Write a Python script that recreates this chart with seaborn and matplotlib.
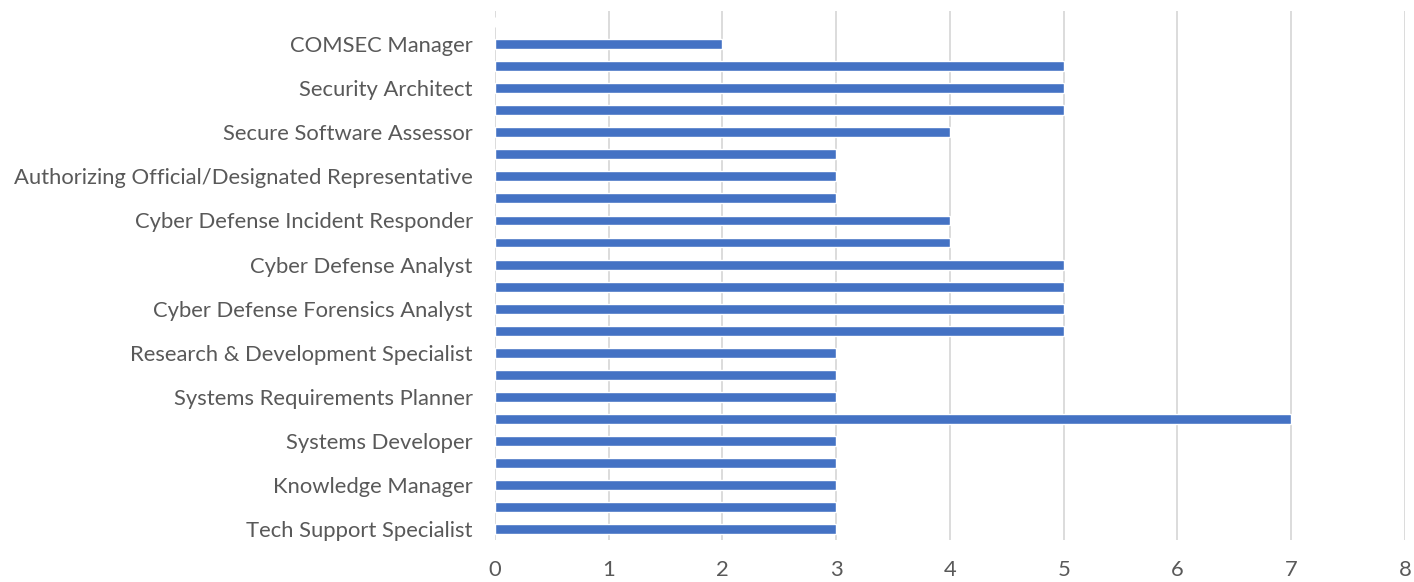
import matplotlib
matplotlib.use("Agg")
import matplotlib.pyplot as plt
import pandas as pd
import seaborn as sns

# roles listed top to bottom; blank entries are categories whose labels the chart skipped
roles = [
    "",
    "COMSEC Manager",
    "",
    "Security Architect",
    "",
    "Secure Software Assessor",
    "",
    "Authorizing Official/Designated Representative",
    "",
    "Cyber Defense Incident Responder",
    "",
    "Cyber Defense Analyst",
    "",
    "Cyber Defense Forensics Analyst",
    "",
    "Research & Development Specialist",
    "",
    "Systems Requirements Planner",
    "",
    "Systems Developer",
    "",
    "Knowledge Manager",
    "",
    "Tech Support Specialist",
]
counts = [0, 2, 5, 5, 5, 4, 3, 3, 3, 4, 4, 5, 5, 5, 5, 3, 3, 3, 7, 3, 3, 3, 3, 3]

BAR_COLOR = "#4472C4"
GRID_COLOR = "#D9D9D9"
TEXT_COLOR = "#595959"

sns.set_theme(style="white")
plt.rcParams["font.family"] = ["Lato", "DejaVu Sans"]

df = pd.DataFrame({"slot": [f"r{i}" for i in range(len(roles))], "count": counts})

fig = plt.figure(figsize=(14.14, 5.82), dpi=100)
ax = fig.add_axes([0.35, 0.072, 0.6436, 0.909])
sns.barplot(data=df, x="count", y="slot", orient="h", color=BAR_COLOR,
            saturation=1, width=0.45, ax=ax)

ax.set_xlim(0, 8)
ax.set_ylim(len(roles) - 0.5, -0.5)
ax.set_xticks(range(0, 9))
ax.set_yticks(range(len(roles)))
ax.set_yticklabels(roles)
ax.set_xlabel("")
ax.set_ylabel("")
ax.xaxis.grid(True, color=GRID_COLOR, linewidth=1.3)
ax.set_axisbelow(True)
for s in ax.spines.values():
    s.set_visible(False)
ax.tick_params(axis="both", length=0, labelsize=15.8, colors=TEXT_COLOR)
ax.tick_params(axis="y", pad=16)
ax.tick_params(axis="x", pad=14)

fig.savefig("out.png", dpi=100)
plt.close(fig)
